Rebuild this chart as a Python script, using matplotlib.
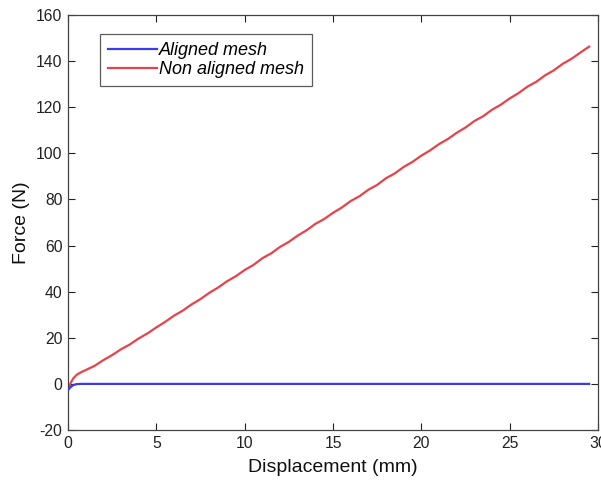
import matplotlib
matplotlib.use("Agg")
import matplotlib.pyplot as plt

aligned_x = [0.0, 0.15, 0.3, 0.5, 0.7, 29.5]
aligned_y = [-2.6, -1.4, -0.5, -0.1, 0.0, 0.0]

nonaligned_x = [0.0, 0.15, 0.3, 0.5, 0.75, 1.0, 1.5, 2.0, 2.5, 3.0, 3.5, 4.0, 4.5,
                5.0, 5.5, 6.0, 6.5, 7.0, 7.5, 8.0, 8.5, 9.0, 9.5, 10.0, 10.5, 11.0,
                11.5, 12.0, 12.5, 13.0, 13.5, 14.0, 14.5, 15.0, 15.5, 16.0, 16.5,
                17.0, 17.5, 18.0, 18.5, 19.0, 19.5, 20.0, 20.5, 21.0, 21.5, 22.0,
                22.5, 23.0, 23.5, 24.0, 24.5, 25.0, 25.5, 26.0, 26.5, 27.0, 27.5,
                28.0, 28.5, 29.0, 29.5]
nonaligned_y = [-2.6, 0.4, 2.4, 4.0, 5.1, 6.0, 7.8, 10.3, 12.5, 15.0, 17.1, 19.7,
                21.9, 24.5, 26.9, 29.6, 31.8, 34.5, 36.8, 39.5, 41.8, 44.5, 46.7,
                49.4, 51.6, 54.5, 56.6, 59.4, 61.6, 64.3, 66.6, 69.4, 71.5, 74.2,
                76.5, 79.3, 81.4, 84.2, 86.3, 89.2, 91.3, 94.1, 96.3, 99.0, 101.3,
                104.0, 106.2, 108.9, 111.2, 114.0, 116.1, 118.9, 121.1, 123.8,
                126.1, 128.9, 131.0, 133.8, 136.0, 138.8, 141.0, 143.7, 146.3]

x_ticks = [0, 5, 10, 15, 20, 25, 30]
y_ticks = [-20, 0, 20, 40, 60, 80, 100, 120, 140, 160]
x_ticklabels = ['0', '5', '10', '15', '20', '25', '30']
y_ticklabels = ['-20', '0', '20', '40', '60', '80', '100', '120', '140', '160']

plt.rcParams['font.family'] = ['Liberation Sans', 'DejaVu Sans']

fig = plt.figure(figsize=(6.01, 4.80), dpi=100)
ax = fig.add_axes([68/601, 1 - 430/480, 530/601, 415/480])

ax.plot(aligned_x, aligned_y, color='#3a3af0', lw=1.6, label='Aligned mesh', zorder=3)
ax.plot(nonaligned_x, nonaligned_y, color='#e8424a', lw=1.6, label='Non aligned mesh', zorder=2)

ax.set_xlim(0, 30)
ax.set_ylim(-20, 160)
ax.set_xticks(x_ticks)
ax.set_xticklabels(x_ticklabels)
ax.set_yticks(y_ticks)
ax.set_yticklabels(y_ticklabels)
ax.tick_params(direction='in', length=5, width=0.8, labelsize=11.3, colors='#222222',
               top=True, right=True, pad=4)
for s in ax.spines.values():
    s.set_color('#444444')
    s.set_linewidth(0.9)

ax.set_xlabel('Displacement (mm)', fontsize=14, labelpad=6, color='#111111')
ax.set_ylabel('Force (N)', fontsize=14, labelpad=4, color='#111111')

leg = ax.legend(loc='upper left', bbox_to_anchor=(32/530, 1 - 19/415),
                prop={'style': 'italic', 'size': 13}, frameon=True, fancybox=False,
                edgecolor='#333333', handlelength=2.7, handletextpad=0.12,
                borderpad=0.45, labelspacing=0.12, borderaxespad=0)
leg.get_frame().set_linewidth(0.9)

fig.savefig('out.png', dpi=100)
